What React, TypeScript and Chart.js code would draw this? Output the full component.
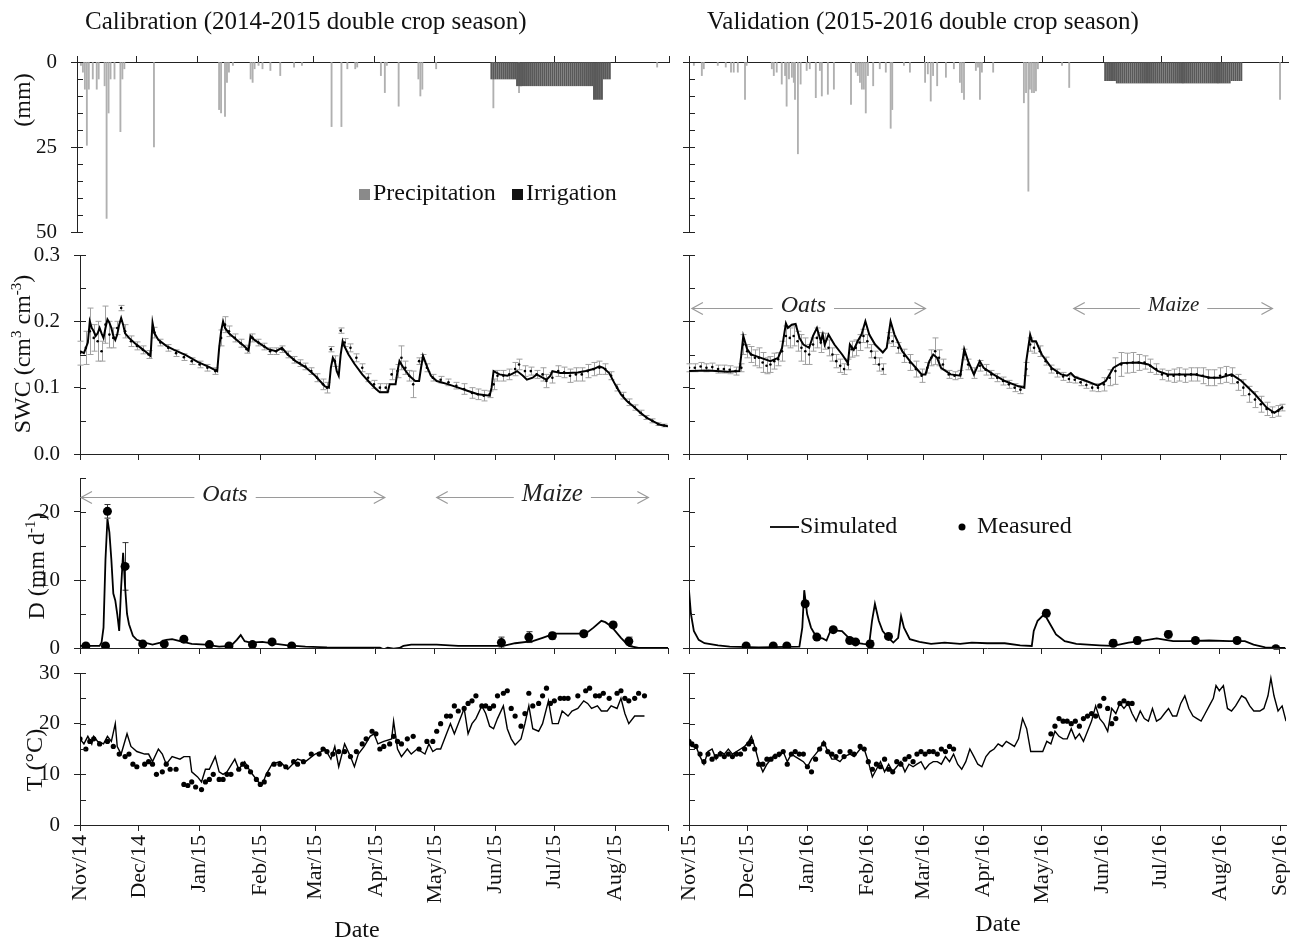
import React, { useEffect, useRef } from 'react';
import { Chart, registerables } from 'chart.js';

Chart.register(...registerables);

const FONT = '"Liberation Serif", "Times New Roman", Times, serif';
const AX = '#222222';
const TXT = '#111111';

// ---------- x-axis ticks (day index from 1 November) ----------
const calMonthDays = [0, 30, 61, 92, 120, 151, 181, 212, 242, 273, 300];
const calMonthLabels = ['Nov/14', 'Dec/14', 'Jan/15', 'Feb/15', 'Mar/15', 'Apr/15', 'May/15', 'Jun/15', 'Jul/15', 'Aug/15', ''];
const valMonthDays = [0, 30, 61, 92, 121, 152, 182, 213, 243, 274, 305];
const valMonthLabels = ['Nov/15', 'Dec/15', 'Jan/16', 'Feb/16', 'Mar/16', 'Apr/16', 'May/16', 'Jun/16', 'Jul/16', 'Aug/16', 'Sep/16'];
const calMaxDay = 300;
const valMaxDay = 308;

// ---------- y-axis ticks ----------
const precipTicks = [0, 5, 10, 15, 20, 25, 30, 35, 40, 45, 50];
const swcTicks = [0, 0.05, 0.1, 0.15, 0.2, 0.25, 0.3];
const dTicks = [0, 5, 10, 15, 20, 25];
const tTicks = [0, 5, 10, 15, 20, 25, 30];

// ---------- Calibration 2014-2015 ----------
const precipCal = [[2,1],[3,3],[4,8],[5,24.5],[6,8],[8,5],[10,8],[11,5],[14,7],[15,46],[16,15],[17,5],[19,5],[22,20.5],[23,5],[24,2],[39,25],[72,14],[73,15],[75,16],[76,6],[77,3],[79,1],[88,5],[89,6],[90,2],[92,1],[94,2],[98,2.5],[103,4],[110,1.5],[114,1],[129,19],[134,19],[137,2],[141,2],[142,1.5],[154,4],[156,9],[157,1],[163,13],[173,5],[174,10],[175,8],[182,2],[211,13.5],[224,9],[294,1.5]];
const irrCalStart = 210;
const irrCalMm = [5,5,5,5,5,5,5,5,5,5,5,5,5,7,7,7,7,7,7,7,7,7,7,7,7,7,7,7,7,7,7,7,7,7,7,7,7,7,7,7,7,7,7,7,7,7,7,7,7,7,7,7,11,11,11,11,11,5,5,5,5];

const swcSimCal = [[0,0.155],[2,0.152],[3,0.16],[4,0.168],[5,0.2],[6,0.19],[7,0.185],[8,0.178],[9,0.182],[10,0.19],[11,0.182],[12,0.175],[13,0.19],[14,0.203],[15,0.198],[16,0.19],[17,0.178],[18,0.172],[19,0.18],[20,0.195],[21,0.205],[22,0.195],[23,0.182],[25,0.175],[28,0.167],[31,0.16],[34,0.153],[36,0.148],[37,0.198],[38,0.182],[40,0.172],[44,0.163],[48,0.157],[54,0.149],[60,0.139],[66,0.131],[70,0.125],[71,0.16],[72,0.185],[73,0.2],[74,0.19],[76,0.182],[80,0.172],[84,0.162],[86,0.156],[87,0.178],[89,0.172],[92,0.166],[96,0.158],[100,0.155],[103,0.16],[106,0.15],[110,0.14],[115,0.131],[120,0.118],[125,0.102],[127,0.1],[128,0.13],[129,0.145],[130,0.14],[131,0.125],[132,0.118],[133,0.15],[134,0.17],[135,0.162],[137,0.15],[140,0.136],[144,0.12],[148,0.107],[151,0.098],[153,0.093],[157,0.093],[158,0.105],[161,0.105],[162,0.125],[163,0.14],[165,0.13],[168,0.118],[171,0.11],[173,0.11],[174,0.13],[175,0.148],[177,0.132],[179,0.118],[182,0.11],[188,0.105],[193,0.1],[198,0.095],[203,0.09],[209,0.088],[210,0.1],[211,0.125],[214,0.12],[218,0.118],[220,0.12],[223,0.125],[226,0.118],[228,0.112],[231,0.115],[233,0.12],[236,0.115],[238,0.112],[240,0.118],[241,0.125],[245,0.122],[249,0.122],[254,0.123],[258,0.125],[262,0.128],[265,0.132],[267,0.13],[270,0.122],[273,0.105],[276,0.09],[279,0.08],[283,0.07],[286,0.062],[289,0.055],[292,0.05],[296,0.044],[300,0.042]];
// [day, SWC, error]
const swcMeasCal = [[0,0.152,0.018],[3,0.16,0.025],[5,0.185,0.035],[7,0.175,0.02],[9,0.17,0.03],[11,0.155,0.015],[13,0.195,0.028],[15,0.18,0.02],[17,0.175,0.015],[19,0.19,0.01],[21,0.22,0.004],[23,0.185,0.01],[26,0.17,0.008],[29,0.163,0.006],[32,0.157,0.006],[35,0.15,0.006],[38,0.183,0.008],[41,0.168,0.005],[45,0.16,0.005],[49,0.152,0.005],[53,0.146,0.005],[57,0.14,0.005],[61,0.135,0.005],[65,0.13,0.005],[69,0.125,0.005],[72,0.175,0.012],[74,0.195,0.012],[76,0.185,0.008],[79,0.175,0.006],[82,0.167,0.006],[85,0.158,0.006],[88,0.175,0.006],[91,0.168,0.005],[94,0.162,0.005],[97,0.155,0.005],[100,0.155,0.005],[103,0.158,0.005],[106,0.15,0.005],[109,0.142,0.005],[112,0.137,0.005],[115,0.132,0.005],[118,0.125,0.005],[121,0.115,0.006],[124,0.105,0.008],[126,0.1,0.008],[128,0.158,0.004],[130,0.14,0.008],[133,0.186,0.004],[135,0.168,0.006],[138,0.16,0.006],[141,0.145,0.006],[144,0.13,0.006],[147,0.115,0.006],[150,0.105,0.006],[153,0.1,0.006],[156,0.1,0.006],[159,0.12,0.008],[162,0.125,0.01],[164,0.145,0.018],[166,0.13,0.01],[168,0.118,0.008],[170,0.105,0.02],[173,0.14,0.005],[175,0.145,0.005],[177,0.13,0.006],[180,0.115,0.005],[184,0.112,0.005],[188,0.108,0.005],[192,0.103,0.005],[196,0.098,0.008],[200,0.092,0.008],[203,0.09,0.008],[206,0.088,0.008],[209,0.09,0.005],[211,0.105,0.008],[213,0.118,0.008],[216,0.118,0.008],[219,0.12,0.008],[222,0.128,0.01],[224,0.135,0.008],[227,0.125,0.008],[230,0.125,0.006],[233,0.12,0.006],[236,0.12,0.01],[238,0.11,0.01],[241,0.115,0.008],[244,0.125,0.008],[247,0.123,0.008],[250,0.118,0.01],[253,0.12,0.01],[256,0.12,0.01],[259,0.125,0.01],[262,0.128,0.01],[265,0.13,0.01],[268,0.128,0.008],[271,0.118,0.006],[274,0.1,0.005],[277,0.088,0.005],[280,0.078,0.005],[283,0.07,0.004],[286,0.062,0.004],[289,0.055,0.003],[292,0.05,0.003],[295,0.045,0.002],[298,0.043,0.002]];

const dSimCal = [[0,0.3],[10,0.3],[11,0.8],[12,3],[13,13],[14,19],[15,17],[16,13],[17,8],[18,7],[19,5],[20,2.5],[21,9],[22,14],[23,9],[24,5],[25,3.5],[27,1.8],[29,1.2],[33,0.8],[37,0.5],[41,0.8],[44,1.2],[47,1.3],[51,1.0],[57,0.6],[64,0.5],[71,0.2],[77,0.3],[80,1.2],[82,1.9],[84,1.0],[87,0.8],[93,0.9],[100,0.6],[106,0.4],[115,0.2],[126,0.1],[153,0.05],[155,-0.2],[157,0.05],[160,-0.1],[163,0],[165,0.3],[169,0.5],[182,0.5],[193,0.3],[211,0.3],[216,0.3],[222,0.7],[231,1.0],[236,1.5],[242,2.1],[258,2.1],[262,3.0],[266,4.0],[268,3.8],[271,3.2],[276,1.5],[280,0.3],[285,0],[300,0]];
const dMeasCal = [[3,0.3,0.1],[13,0.3,0.1],[14,20.1,1],[23,12,3.5],[32,0.6,0.2],[43,0.6,0.2],[53,1.3,0.3],[66,0.5,0.1],[76,0.3,0.1],[88,0.5,0.2],[98,0.9,0.2],[108,0.3,0.1],[215,0.8,0.8],[229,1.6,0.8],[241,1.8,0.5],[257,2.1,0.4],[272,3.4,0.4],[280,1.0,0.6]];

const tSimCal = [[0,17],[2,16],[4,17.5],[6,16],[7,17.5],[9,16.5],[12,16],[14,17.5],[16,16.5],[18,20],[19,15.5],[21,14],[24,18],[26,15.5],[29,14.5],[33,14],[35,14],[37,12.5],[40,15],[42,14],[44,12],[47,13.5],[51,13],[53,13.5],[56,13.5],[57,10.5],[60,9.5],[62,8.5],[64,11],[66,11],[69,13.5],[71,10.5],[73,10],[75,10.5],[79,13],[81,11],[84,12.5],[87,10.5],[91,8.5],[93,8],[95,10],[98,12],[102,12.5],[106,11],[111,13],[115,12.5],[120,14],[123,14.5],[125,15],[128,13],[130,15.5],[132,11.5],[135,16],[138,13.5],[140,11.5],[142,14],[145,15.5],[148,17.5],[150,18],[152,16],[155,16.5],[159,17],[160,20.5],[162,15],[164,13.5],[167,15],[169,14],[172,15],[176,14],[178,16],[180,14.5],[182,15],[184,15],[187,18],[189,20],[191,18],[193,20],[196,23],[198,18],[200,20],[202,21],[205,23.5],[207,22],[209,19.5],[211,19],[213,21],[216,23.5],[218,19],[220,17],[222,15.8],[225,17],[227,20],[229,23.5],[231,19],[234,18.5],[236,20],[239,24.5],[241,20],[244,20],[246,22.5],[249,21.5],[251,22.5],[254,23],[257,24.5],[259,24],[261,23],[264,23.5],[266,22.5],[269,22.5],[271,23.5],[274,23],[276,25],[278,22],[280,20],[283,21.5],[285,21.5],[288,21.5]];
const tMeasCal = [[0,17],[3,15],[5,16.5],[7,17],[10,16],[14,16.5],[17,15.5],[20,14],[23,13.5],[25,14],[27,12],[29,11.5],[33,12],[35,12.5],[37,12],[39,10],[42,10.5],[44,12],[46,11],[49,11],[53,8],[55,7.8],[57,8.5],[59,7.5],[62,7],[64,8.5],[66,9],[68,10],[71,9],[73,9],[75,10],[77,10],[81,11],[83,12],[85,11.5],[87,10.5],[90,9],[92,8],[94,8.5],[96,10],[99,12],[102,12],[105,11.5],[109,12.5],[111,12],[114,12.5],[118,14],[122,14],[124,15],[126,14.5],[129,14],[132,14.5],[135,14.5],[138,13.5],[141,14.5],[144,16],[146,17],[149,18.5],[151,18],[153,15],[155,15.5],[158,16],[160,17.5],[162,16.5],[164,16],[167,17],[170,17.5],[173,15],[177,16.5],[180,16.5],[182,18.5],[184,20],[187,21.5],[189,21.5],[191,23.5],[193,22.5],[196,23],[198,24],[200,24.5],[202,25.5],[205,23.5],[207,23.5],[209,23],[211,23.5],[213,25.5],[216,26],[218,26.5],[220,23],[222,21.5],[225,19.5],[227,22],[229,26],[231,23.5],[234,24],[236,25.5],[238,27],[240,24],[242,24.5],[245,25],[247,25],[249,25],[254,25.5],[258,26.5],[260,27],[263,25.5],[265,25.5],[267,26],[270,25],[274,26],[276,26.5],[278,25],[280,24.5],[283,25],[285,26],[288,25.5]];

// ---------- Validation 2015-2016 ----------
const precipVal = [[2.5,1],[6.6,4],[7.6,2],[14.8,1],[18.9,1.5],[21.6,3],[23,3],[25.1,3],[28.8,11],[29.6,1],[42.6,2],[43.6,4],[45.1,3],[47.7,6.5],[49.4,4],[50.2,13],[51.4,5],[52.9,4.5],[53.9,6],[54.5,11],[56,27],[57.4,6.5],[60.5,2.5],[62.1,2],[65.2,10.5],[67.3,2.5],[68.3,10],[71.4,9.5],[74.5,8],[83.3,12.5],[85.8,3],[86.8,4],[87.9,6],[88.9,8],[89.9,8],[90.9,15],[92,4],[94.7,7],[98.1,2],[101.2,3],[103.7,19.5],[104.5,14],[110.5,1],[113.6,3],[121.4,6],[122.8,3.5],[124.3,11.5],[125.5,4],[127.6,7],[132.1,4.5],[136.2,2],[139.3,6],[140.3,9],[141.4,11],[147.5,2.5],[148.6,1.5],[149.6,11],[150.6,3],[156.4,3],[172.2,12],[173.3,9],[174.5,38],[175.3,8],[176.3,9],[177.4,9],[178.4,8.5],[179.4,2],[191.8,1],[195.5,7.5],[303.9,11]];
const irrValStart = 214;
const irrValMm = [5.5,5.5,5.5,5.5,5.5,5.5,6.2,6.2,6.2,6.2,6.2,6.2,6.2,6.2,6.2,6.2,6.2,6.2,6.2,6.2,6.2,6.2,6.2,6.2,6.2,6.2,6.2,6.2,6.2,6.2,6.2,6.2,6.2,6.2,6.2,6.2,6.2,6.2,6.2,6.2,6.2,6.2,6.2,6.2,6.2,6.2,6.2,6.2,6.2,6.2,6.2,6.2,6.2,6.2,6.2,6.2,6.2,6.2,6.2,6.2,6.2,6.2,6.2,6.2,6.2,5.5,5.5,5.5,5.5,5.5,5.5];

const swcSimVal = [[0,0.125],[10,0.126],[20,0.124],[26,0.125],[27,0.15],[28,0.178],[30,0.158],[32,0.15],[36,0.146],[42,0.14],[46,0.145],[48,0.16],[50,0.197],[51,0.19],[53,0.195],[55,0.196],[57,0.175],[59,0.165],[62,0.16],[64,0.178],[66,0.19],[68,0.17],[69,0.18],[70,0.165],[72,0.18],[73,0.175],[75,0.165],[79,0.15],[82,0.137],[83,0.165],[85,0.157],[87,0.17],[89,0.18],[91,0.2],[93,0.18],[96,0.165],[100,0.153],[102,0.16],[104,0.2],[106,0.18],[110,0.155],[114,0.14],[117,0.13],[120,0.12],[122,0.12],[124,0.14],[126,0.15],[128,0.145],[130,0.13],[135,0.12],[140,0.118],[142,0.158],[144,0.14],[147,0.12],[150,0.14],[152,0.13],[157,0.12],[163,0.11],[170,0.102],[173,0.1],[174,0.14],[176,0.18],[177,0.17],[179,0.17],[182,0.15],[187,0.13],[192,0.12],[195,0.118],[197,0.122],[199,0.116],[205,0.11],[211,0.103],[215,0.11],[219,0.13],[223,0.137],[232,0.138],[237,0.135],[242,0.125],[247,0.12],[252,0.12],[261,0.12],[269,0.115],[274,0.115],[280,0.12],[285,0.11],[292,0.09],[298,0.07],[302,0.062],[306,0.07]];
const swcMeasVal = [[0,0.13,0.006],[3,0.13,0.006],[6,0.132,0.006],[9,0.13,0.006],[12,0.131,0.006],[15,0.128,0.006],[18,0.128,0.006],[21,0.127,0.006],[24,0.125,0.006],[27,0.13,0.006],[28,0.165,0.015],[30,0.155,0.01],[32,0.15,0.012],[34,0.145,0.012],[36,0.145,0.015],[38,0.138,0.015],[40,0.133,0.012],[42,0.135,0.012],[44,0.14,0.012],[46,0.143,0.01],[48,0.155,0.015],[50,0.178,0.015],[52,0.175,0.015],[54,0.178,0.015],[56,0.17,0.015],[58,0.16,0.02],[60,0.155,0.02],[62,0.15,0.015],[64,0.165,0.01],[66,0.175,0.015],[68,0.168,0.015],[70,0.17,0.012],[72,0.16,0.012],[74,0.15,0.01],[76,0.14,0.01],[78,0.133,0.01],[80,0.128,0.008],[82,0.135,0.008],[84,0.158,0.012],[86,0.16,0.012],[88,0.168,0.012],[90,0.178,0.01],[92,0.17,0.01],[94,0.155,0.01],[96,0.145,0.01],[98,0.135,0.01],[100,0.128,0.008],[103,0.175,0.008],[105,0.17,0.008],[108,0.16,0.008],[111,0.148,0.01],[114,0.138,0.012],[117,0.128,0.012],[120,0.118,0.01],[123,0.13,0.008],[125,0.145,0.012],[127,0.155,0.02],[129,0.145,0.012],[131,0.135,0.008],[134,0.12,0.006],[137,0.118,0.006],[140,0.12,0.006],[142,0.15,0.008],[144,0.135,0.008],[147,0.122,0.008],[150,0.133,0.008],[153,0.127,0.008],[156,0.12,0.006],[159,0.115,0.006],[162,0.11,0.006],[165,0.105,0.006],[168,0.1,0.006],[171,0.097,0.006],[174,0.128,0.01],[176,0.165,0.01],[178,0.16,0.008],[181,0.155,0.008],[184,0.14,0.006],[187,0.128,0.006],[190,0.122,0.006],[193,0.117,0.006],[196,0.113,0.005],[199,0.112,0.005],[202,0.108,0.005],[205,0.104,0.005],[208,0.1,0.005],[211,0.1,0.006],[214,0.105,0.01],[217,0.115,0.012],[220,0.125,0.02],[223,0.135,0.018],[226,0.137,0.015],[229,0.138,0.015],[232,0.138,0.012],[235,0.138,0.01],[238,0.133,0.01],[241,0.128,0.008],[244,0.12,0.008],[247,0.118,0.008],[250,0.118,0.01],[253,0.12,0.01],[256,0.118,0.01],[259,0.12,0.01],[262,0.12,0.01],[265,0.118,0.012],[268,0.115,0.012],[271,0.115,0.012],[274,0.118,0.012],[277,0.12,0.012],[280,0.118,0.012],[283,0.108,0.012],[286,0.1,0.012],[289,0.09,0.012],[292,0.082,0.012],[295,0.075,0.012],[298,0.068,0.01],[301,0.063,0.008],[304,0.065,0.008],[306,0.07,0.005]];

const dSimVal = [[0,8.5],[1,5],[2.5,2.5],[5,1.2],[8,0.7],[15,0.4],[21,0.2],[36,0.1],[57,0.2],[58.5,3],[59.5,8.5],[61,5],[63,3],[66,1.5],[69,1.4],[71,1.1],[73,2.5],[75,2.6],[79,2.5],[82.5,1.5],[85.5,0.8],[90,0.6],[93,0.5],[94.5,4],[96,6.5],[98,4],[100,2.5],[103,1.5],[105.5,0.8],[108,1.5],[109.5,4.7],[111,3],[114,1.3],[119,0.9],[125,0.6],[132,0.8],[140,0.6],[146,0.8],[154,0.7],[163,0.7],[171,0.4],[177,0.3],[178,2.5],[180,4],[183.5,5],[186.5,3.5],[189.5,2],[194,1],[200,0.6],[212,0.4],[219,0.3],[227,0.8],[233,1],[241.5,1.4],[246,1.2],[250,1],[258,1],[268.5,1.1],[279,1],[287,1],[291.5,0.5],[297.5,0.1],[305,0],[308,0]];
const dMeasVal = [[29.5,0.3,0.1],[43.5,0.3,0.1],[50.5,0.3,0.1],[60,6.5,0.4],[66,1.6,0.3],[74.5,2.7,0.3],[83,1.1,0.3],[86,0.9,0.2],[93.5,0.6,0.5],[103,1.7,0.3],[184.5,5.1,0.5],[219,0.7,0.5],[231.5,1.1,0.5],[247.5,2.0,0.5],[261.5,1.1,0.3],[283,1.1,0.3],[303,-0.1,0.1]];

const tSimVal = [[0,16],[1.5,15.5],[3.6,15.5],[5.7,13.5],[7.7,12],[9.8,14.5],[11.9,15],[14,13],[16.1,14.5],[18.2,14],[20.3,15],[22.4,14],[24.5,14.5],[26.6,15],[28.7,15.5],[30.8,16.5],[32.2,17.5],[33.9,15.5],[36,12.5],[38.1,10.5],[40.2,12],[42.3,13],[44.4,14],[46.5,13.5],[48.6,14.5],[50.7,12.5],[52.8,14],[54.8,13.5],[56.9,13],[59,12.5],[61.1,11.5],[63.2,13],[65.3,14],[67.4,15],[69.5,16.5],[71.6,14.5],[73.7,13],[75.8,13],[77.9,12.5],[80,13.5],[83.1,14],[85.2,13.5],[88.3,15],[90.4,15],[92.5,12.5],[94.6,9.5],[96.7,11],[98.8,12.5],[100.9,10.5],[103,12],[105.1,10.5],[107.2,11.5],[109.3,12.5],[111.4,10.5],[113.5,12],[115.6,11.5],[117.6,12],[119.7,12.5],[121.8,11],[123.9,12],[126,12.5],[128.1,12.5],[130.2,12],[132.3,13.5],[134.4,12.5],[136.5,14],[138.6,12],[140.7,11],[142.8,12.5],[144.9,15],[147,13.5],[149,12],[151.1,11.5],[153.2,13.5],[155.3,14.5],[157.4,15],[159.5,16],[161.6,15.5],[163.7,16.5],[165.8,16],[167.9,15.5],[170,17],[172.1,21],[174.2,19],[176.3,14.5],[178.4,14.5],[180.5,14.5],[182.5,14.5],[184.6,16.5],[186.7,16],[188.8,18.5],[190.9,17.5],[193,17],[195.1,17],[197.2,19],[199.3,17],[201.4,18],[203.5,16.5],[205.6,18.5],[207.7,20.5],[209.8,23.5],[211.9,21],[214,20],[216,18.5],[218.1,23],[220.2,22],[222.3,24],[224.4,23],[226.5,24],[228.6,22],[230.7,20.5],[232.8,22.5],[234.9,21],[237,20.5],[239.1,23],[241.2,20.5],[243.3,21],[245.3,22],[247.4,23],[249.5,21.5],[251.6,21.5],[253.7,24],[255.8,25.5],[257.9,23],[260,21.5],[262.1,21],[264.2,20.5],[266.3,22],[268.4,23.5],[270.5,25],[271.9,27.5],[273.6,26.5],[275.7,27.5],[277.8,23],[279.9,22.5],[282,23.5],[285.1,25.5],[287.2,25],[289.3,23.5],[291.4,22.5],[294.5,22.5],[296.6,23],[298.7,25.5],[300.2,29],[301.8,25.5],[303.9,22.5],[306,23.5],[308,20.5]];
const tMeasVal = [[0,16.5],[1.5,16],[3.6,15.5],[5.7,14],[7.7,12.5],[9.8,14],[11.9,13],[14,13.5],[16.1,14],[18.2,13.5],[20.3,14],[22.4,13.5],[24.5,14],[26.6,14],[28.7,15],[30.8,16],[32.2,16.5],[33.9,15],[36,12],[38.1,12],[40.2,13],[42.3,13],[44.4,13.5],[46.5,14],[48.6,14.5],[50.7,12],[52.8,14],[54.8,14.5],[56.9,14],[59,14],[61.1,11.5],[63.2,10.5],[65.3,13],[67.4,15],[69.5,16],[71.6,14.5],[73.7,14],[75.8,13.5],[77.9,14.5],[80,13.5],[83.1,14.5],[85.2,14],[88.3,15.5],[90.4,15],[92.5,12.5],[94.6,11],[96.7,12],[98.8,11.5],[100.9,13],[103,11],[105.1,10.5],[107.2,12.5],[109.3,12],[111.4,13],[113.5,13.5],[115.6,12.5],[117.6,14],[119.7,14.5],[121.8,14],[123.9,14.5],[126,14.5],[128.1,14],[130.2,15],[132.3,14.5],[134.4,15.5],[136.5,15],[186.7,18],[188.8,19.5],[190.9,21],[193,20.5],[195.1,20.5],[197.2,20],[199.3,20.5],[201.4,19.5],[203.5,21],[205.6,21.5],[207.7,22],[209.8,21.5],[211.9,23.5],[214,25],[216,23],[218.1,20],[220.2,21],[222.3,24],[224.4,24.5],[226.5,24],[228.6,24]];

// ---------- helpers ----------
const toXY = (arr: number[][]) => arr.map((p) => ({ x: p[0], y: p[1], e: p[2] }));
const seqXY = (start: number, vals: number[]) => vals.map((v, i) => ({ x: start + i, y: v }));

function drawText(ctx: any, text: string, x: number, y: number, size = 24, align = 'left', italic = false, color = TXT) {
  ctx.save();
  ctx.font = `${italic ? 'italic ' : ''}${size}px ${FONT}`;
  ctx.fillStyle = color;
  ctx.textAlign = align;
  ctx.textBaseline = 'middle';
  ctx.fillText(text, x, y);
  ctx.restore();
}

function drawRotRich(ctx: any, segs: [string, boolean][], cx: number, cy: number, size = 24) {
  ctx.save();
  ctx.translate(cx, cy);
  ctx.rotate(-Math.PI / 2);
  const supSize = Math.round(size * 0.62);
  let total = 0;
  const ws = segs.map(([t, sup]) => {
    ctx.font = `${sup ? supSize : size}px ${FONT}`;
    const w = ctx.measureText(t).width;
    total += w;
    return w;
  });
  let x = -total / 2;
  ctx.fillStyle = TXT;
  ctx.textAlign = 'left';
  ctx.textBaseline = 'middle';
  segs.forEach(([t, sup], i) => {
    ctx.font = `${sup ? supSize : size}px ${FONT}`;
    ctx.fillText(t, x, sup ? -size * 0.3 : 0);
    x += ws[i];
  });
  ctx.restore();
}

function drawCropArrow(chart: any, d1: number, d2: number, val: number, labelDay: number, label: string, size: number) {
  const ctx = chart.ctx;
  const xs = chart.scales.x;
  const ys = chart.scales.y;
  const x1 = xs.getPixelForValue(d1);
  const x2 = xs.getPixelForValue(d2);
  const y = Math.round(ys.getPixelForValue(val)) + 0.5;
  const xl = xs.getPixelForValue(labelDay);
  ctx.save();
  ctx.font = `italic ${size}px ${FONT}`;
  const w = ctx.measureText(label).width;
  const gap = 8;
  ctx.strokeStyle = '#9a9a9a';
  ctx.lineWidth = 1.2;
  ctx.beginPath();
  ctx.moveTo(x1, y); ctx.lineTo(xl - w / 2 - gap, y);
  ctx.moveTo(xl + w / 2 + gap, y); ctx.lineTo(x2, y);
  ctx.moveTo(x1 + 11, y - 6); ctx.lineTo(x1, y); ctx.lineTo(x1 + 11, y + 6);
  ctx.moveTo(x2 - 11, y - 6); ctx.lineTo(x2, y); ctx.lineTo(x2 - 11, y + 6);
  ctx.stroke();
  ctx.fillStyle = '#222';
  ctx.textAlign = 'center';
  ctx.textBaseline = 'middle';
  ctx.fillText(label, xl, y - 3);
  ctx.restore();
}

const innerTicks = {
  id: 'innerTicks',
  afterDraw(chart: any) {
    const ys = chart.scales.y;
    const left = chart.chartArea.left;
    const ctx = chart.ctx;
    ctx.save();
    ctx.strokeStyle = AX;
    ctx.lineWidth = 1;
    ctx.beginPath();
    ys.ticks.forEach((t: any) => {
      const py = Math.round(ys.getPixelForValue(t.value)) + 0.5;
      ctx.moveTo(left, py);
      ctx.lineTo(left + 6, py);
    });
    ctx.stroke();
    ctx.restore();
  },
};

const errBars = {
  id: 'errBars',
  beforeDatasetsDraw(chart: any) {
    const ctx = chart.ctx;
    const xs = chart.scales.x;
    const ys = chart.scales.y;
    chart.data.datasets.forEach((ds: any) => {
      if (!ds.errColor) return;
      ctx.save();
      ctx.strokeStyle = ds.errColor;
      ctx.lineWidth = 1;
      ctx.beginPath();
      ds.data.forEach((p: any) => {
        if (!p.e) return;
        const x = Math.round(xs.getPixelForValue(p.x)) + 0.5;
        const y1 = ys.getPixelForValue(p.y - p.e);
        const y2 = ys.getPixelForValue(p.y + p.e);
        const c = ds.capW / 2;
        ctx.moveTo(x, y1); ctx.lineTo(x, y2);
        ctx.moveTo(x - c, y1); ctx.lineTo(x + c, y1);
        ctx.moveTo(x - c, y2); ctx.lineTo(x + c, y2);
      });
      ctx.stroke();
      ctx.restore();
    });
  },
};

// ---------- geometry ----------
const COLS: any = {
  cal: { left: 0, width: 680, yW: 80, padR: 12, maxDay: calMaxDay, days: calMonthDays, labels: calMonthLabels, showY: true },
  val: { left: 640, width: 650, yW: 49, padR: 2, maxDay: valMaxDay, days: valMonthDays, labels: valMonthLabels, showY: false },
};
const ROWS: any = {
  p: { top: 0, height: 245, padT: 54, padB: 13, xH: 8, xPos: 'top' },
  s: { top: 235, height: 235, padT: 20, padB: 8, xH: 8, xPos: 'bottom' },
  d: { top: 462, height: 200, padT: 16, padB: 6, xH: 8, xPos: 'bottom' },
  t: { top: 655, height: 288, padT: 18, padB: 0, xH: 118, xPos: 'bottom' },
};

function makeConfig(o: any) {
  const col = COLS[o.col];
  const row = ROWS[o.row];
  const yW = o.yW ?? col.yW;
  const padR = o.padR ?? col.padR;
  const showX = o.row === 't';
  return {
    type: o.kind,
    data: { datasets: o.datasets },
    options: {
      responsive: false,
      animation: false,
      events: [],
      layout: { padding: { left: 0, right: padR, top: row.padT, bottom: row.padB } },
      plugins: { legend: { display: false }, tooltip: { enabled: false }, title: { display: false } },
      scales: {
        x: {
          type: 'linear',
          position: row.xPos,
          min: 0,
          max: col.maxDay,
          offset: false,
          afterBuildTicks: (s: any) => { s.ticks = col.days.map((v: number) => ({ value: v })); },
          ticks: {
            display: showX,
            autoSkip: false,
            minRotation: 90,
            maxRotation: 90,
            padding: 4,
            color: TXT,
            font: { family: FONT, size: 22 },
            callback: (_v: any, i: number) => col.labels[i] ?? '',
          },
          grid: { drawOnChartArea: false, drawTicks: true, tickLength: 6, tickColor: AX, offset: false },
          border: { display: true, color: AX, width: 1 },
          afterFit: (s: any) => { s.height = row.xH; s.paddingLeft = 0; s.paddingRight = 0; },
        },
        y: {
          type: 'linear',
          min: o.yMin,
          max: o.yMax,
          reverse: !!o.reverse,
          afterBuildTicks: (s: any) => { s.ticks = o.yTicks.map((v: number) => ({ value: v })); },
          ticks: {
            autoSkip: false,
            padding: 14,
            color: TXT,
            font: { family: FONT, size: 21 },
            callback: (v: number) => (col.showY && o.isMajor(v) ? o.fmt(v) : ''),
          },
          grid: {
            drawOnChartArea: false,
            drawTicks: true,
            tickLength: 6,
            tickColor: (c: any) => (c.tick && o.isMajor(c.tick.value) ? AX : 'rgba(0,0,0,0)'),
          },
          border: { display: true, color: AX, width: 1 },
          afterFit: (s: any) => { s.width = yW; s.paddingTop = 0; s.paddingBottom = 0; },
        },
      },
    },
    plugins: [innerTicks, errBars, { id: 'extras', afterDraw: (c: any) => { if (o.draw) o.draw(c, c.ctx); } }],
  };
}

function Panel({ col, row, build }: any) {
  const ref = useRef<HTMLCanvasElement>(null);
  const c = COLS[col];
  const r = ROWS[row];
  useEffect(() => {
    const chart = new Chart(ref.current as any, build() as any);
    return () => chart.destroy();
  }, []);
  return (
    <canvas
      ref={ref}
      width={c.width}
      height={r.height}
      style={{ position: 'absolute', left: c.left, top: r.top, width: c.width, height: r.height }}
    />
  );
}

// ---------- panel builders ----------
const majorEvery = (step: number) => (v: number) => Math.abs(v / step - Math.round(v / step)) < 1e-6;

function precipConfig(col: string) {
  const isCal = col === 'cal';
  return makeConfig({
    kind: 'bar',
    col,
    row: 'p',
    yW: isCal ? 77 : undefined,
    padR: isCal ? 11 : undefined,
    yMin: 0, yMax: 50, reverse: true, yTicks: precipTicks,
    isMajor: majorEvery(25), fmt: (v: number) => String(v),
    datasets: [
      { label: 'Irrigation', data: seqXY(isCal ? irrCalStart : irrValStart, isCal ? irrCalMm : irrValMm), backgroundColor: '#595959', barThickness: 1.3, grouped: false, borderWidth: 0 },
      { label: 'Precipitation', data: toXY(isCal ? precipCal : precipVal), backgroundColor: '#b0b0b0', barThickness: 1.2, grouped: false, borderWidth: 0 },
    ],
    draw: (chart: any, ctx: any) => {
      if (isCal) {
        drawText(ctx, 'Calibration (2014-2015 double crop season)', 85, 22, 25);
        drawRotRich(ctx, [['(mm)', false]], 24, 100, 24);
        ctx.save();
        ctx.fillStyle = '#8a8a8a'; ctx.fillRect(359, 189, 11, 11);
        ctx.fillStyle = '#111'; ctx.fillRect(512, 189, 11, 11);
        ctx.restore();
        drawText(ctx, 'Precipitation', 373, 194, 24);
        drawText(ctx, 'Irrigation', 526, 194, 24);
      } else {
        drawText(ctx, 'Validation (2015-2016 double crop season)', 707 - 640, 22, 25);
      }
    },
  });
}

function swcConfig(col: string) {
  const isCal = col === 'cal';
  return makeConfig({
    kind: 'line',
    col,
    row: 's',
    yMin: 0, yMax: 0.3, yTicks: swcTicks,
    isMajor: majorEvery(0.1), fmt: (v: number) => v.toFixed(1),
    datasets: [
      { label: 'Simulated', data: toXY(isCal ? swcSimCal : swcSimVal), borderColor: '#000', borderWidth: 2, pointRadius: 0, order: 0 },
      { label: 'Measured', data: toXY(isCal ? swcMeasCal : swcMeasVal), showLine: false, pointRadius: 1.3, pointBackgroundColor: '#000', pointBorderWidth: 0, borderColor: '#000', errColor: '#a0a0a0', capW: 6, order: 1 },
    ],
    draw: (chart: any, ctx: any) => {
      if (isCal) {
        drawRotRich(ctx, [['SWC (cm', false], ['3', true], [' cm', false], ['-3', true], [')', false]], 24, 354 - 235, 24);
      } else {
        drawCropArrow(chart, 1.5, 122, 0.22, 59, 'Oats', 24);
        drawCropArrow(chart, 198.5, 301, 0.22, 250, 'Maize', 21);
      }
    },
  });
}

function dConfig(col: string) {
  const isCal = col === 'cal';
  return makeConfig({
    kind: 'line',
    col,
    row: 'd',
    yMin: 0, yMax: 25, yTicks: dTicks,
    isMajor: majorEvery(10), fmt: (v: number) => String(v),
    datasets: [
      { label: 'Measured', data: toXY(isCal ? dMeasCal : dMeasVal), showLine: false, pointRadius: 4.5, pointBackgroundColor: '#000', pointBorderWidth: 0, borderColor: '#000', errColor: '#333', capW: 6, order: 0 },
      { label: 'Simulated', data: toXY(isCal ? dSimCal : dSimVal), borderColor: '#000', borderWidth: 1.8, pointRadius: 0, order: 1 },
    ],
    draw: (chart: any, ctx: any) => {
      if (isCal) {
        drawRotRich(ctx, [['D (mm d', false], ['-1', true], [')', false]], 38, 566 - 462, 24);
        drawCropArrow(chart, 0.5, 155.5, 22.2, 74, 'Oats', 24);
        drawCropArrow(chart, 182, 290, 22.2, 241, 'Maize', 25);
      } else {
        const y = 527 - 462;
        ctx.save();
        ctx.strokeStyle = '#000'; ctx.lineWidth = 1.8;
        ctx.beginPath(); ctx.moveTo(770 - 640, y); ctx.lineTo(799 - 640, y); ctx.stroke();
        ctx.fillStyle = '#000';
        ctx.beginPath(); ctx.arc(962 - 640, y, 3.5, 0, Math.PI * 2); ctx.fill();
        ctx.restore();
        drawText(ctx, 'Simulated', 800 - 640, y, 24);
        drawText(ctx, 'Measured', 977 - 640, y, 24);
      }
    },
  });
}

function tConfig(col: string) {
  const isCal = col === 'cal';
  return makeConfig({
    kind: 'line',
    col,
    row: 't',
    yMin: 0, yMax: 30, yTicks: tTicks,
    isMajor: majorEvery(10), fmt: (v: number) => String(v),
    datasets: [
      { label: 'Measured', data: toXY(isCal ? tMeasCal : tMeasVal), showLine: false, pointRadius: 2.6, pointBackgroundColor: '#000', pointBorderWidth: 0, borderColor: '#000', order: 0 },
      { label: 'Simulated', data: toXY(isCal ? tSimCal : tSimVal), borderColor: '#000', borderWidth: 1.4, pointRadius: 0, order: 1 },
    ],
    draw: (chart: any, ctx: any) => {
      if (isCal) {
        drawRotRich(ctx, [['T (°C)', false]], 36, 760 - 655, 24);
        drawText(ctx, 'Date', 357, 931 - 655, 24, 'center');
      } else {
        drawText(ctx, 'Date', 998 - 640, 925 - 655, 24, 'center');
      }
    },
  });
}

export default function App() {
  return (
    <div style={{ position: 'absolute', left: 0, top: 0, width: 1290, height: 943, background: '#ffffff', overflow: 'hidden' }}>
      <Panel col="cal" row="p" build={() => precipConfig('cal')} />
      <Panel col="cal" row="s" build={() => swcConfig('cal')} />
      <Panel col="cal" row="d" build={() => dConfig('cal')} />
      <Panel col="cal" row="t" build={() => tConfig('cal')} />
      <Panel col="val" row="p" build={() => precipConfig('val')} />
      <Panel col="val" row="s" build={() => swcConfig('val')} />
      <Panel col="val" row="d" build={() => dConfig('val')} />
      <Panel col="val" row="t" build={() => tConfig('val')} />
    </div>
  );
}
